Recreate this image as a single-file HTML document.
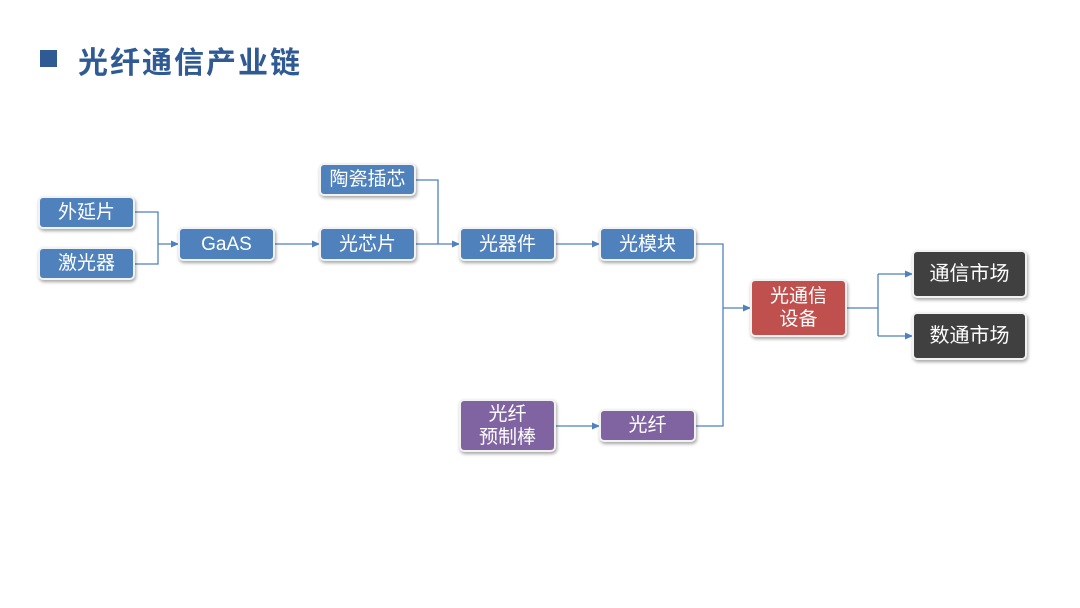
<!DOCTYPE html><html><head><meta charset="utf-8"><style>
body{margin:0;width:1080px;height:608px;background:#fff;position:relative;overflow:hidden;font-family:"Liberation Sans","Noto Sans CJK SC",sans-serif}
.t{position:absolute;left:78px;top:38px;font-size:30px;font-weight:bold;color:#2f5a94;letter-spacing:2px}
.sq{position:absolute;left:40px;top:50px;width:17px;height:17px;background:#2f5a94}
.b{position:absolute;box-sizing:border-box;border:2px solid #f2f2f2;border-radius:5px;color:#fff;font-size:19px;display:flex;align-items:center;justify-content:center;text-align:center;line-height:23px;box-shadow:1px 2px 3px rgba(0,0,0,.35)}
.bl{background:#4f81bd}.pu{background:#8064a2}.rd{background:#c0504d}.dk{background:#404040;font-size:20px}
svg{position:absolute;left:0;top:0}
</style></head><body>
<div class="sq"></div><div class="t">光纤通信产业链</div>
<svg width="1080" height="608"><defs><marker id="a" markerWidth="8" markerHeight="8" refX="7" refY="4" orient="auto" markerUnits="userSpaceOnUse"><path d="M0,0.5 L8,4 L0,7.5z" fill="#4f81bd"/></marker></defs>
<g stroke="#4f81bd" stroke-width="1.3" fill="none">
<path d="M134,212H158V264H134"/><path d="M158,244H178" marker-end="url(#a)"/>
<path d="M274,244H319" marker-end="url(#a)"/>
<path d="M415,180H438V244"/><path d="M415,244H459" marker-end="url(#a)"/>
<path d="M555,244H599" marker-end="url(#a)"/>
<path d="M695,244H723V426H695"/><path d="M723,308H750" marker-end="url(#a)"/>
<path d="M555,426H599" marker-end="url(#a)"/>
<path d="M846,308H878"/><path d="M878,274V336"/><path d="M878,274H912" marker-end="url(#a)"/><path d="M878,336H912" marker-end="url(#a)"/>
</g></svg>
<div class="b bl" style="left:38px;top:196px;width:97px;height:33px">外延片</div>
<div class="b bl" style="left:38px;top:247px;width:97px;height:33px">激光器</div>
<div class="b bl" style="left:178px;top:227px;width:97px;height:34px">GaAS</div>
<div class="b bl" style="left:319px;top:163px;width:97px;height:33px">陶瓷插芯</div>
<div class="b bl" style="left:319px;top:227px;width:97px;height:34px">光芯片</div>
<div class="b bl" style="left:459px;top:227px;width:97px;height:34px">光器件</div>
<div class="b bl" style="left:599px;top:227px;width:97px;height:34px">光模块</div>
<div class="b rd" style="left:750px;top:279px;width:97px;height:58px">光通信<br>设备</div>
<div class="b dk" style="left:912px;top:250px;width:115px;height:48px">通信市场</div>
<div class="b dk" style="left:912px;top:312px;width:115px;height:48px">数通市场</div>
<div class="b pu" style="left:459px;top:399px;width:97px;height:53px">光纤<br>预制棒</div>
<div class="b pu" style="left:599px;top:409px;width:97px;height:33px">光纤</div>
</body></html>
